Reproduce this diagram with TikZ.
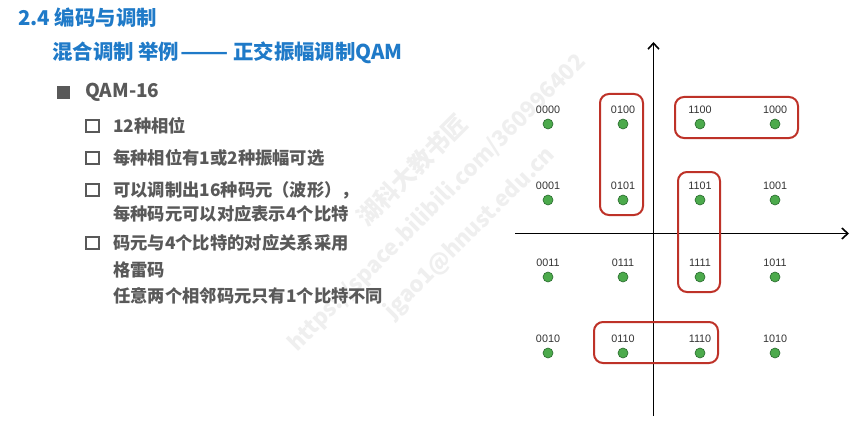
\documentclass[tikz,border=0pt]{standalone}
\usepackage{fontspec}
\usepackage{graphicx}
\setmainfont{Liberation Sans}
\newfontfamily\cjk{Noto Sans CJK SC}
\usetikzlibrary{arrows.meta,calc}
\definecolor{titleblue}{RGB}{31,122,200}
\definecolor{bodygray}{RGB}{89,89,89}
\definecolor{dotgreen}{RGB}{76,170,76}
\definecolor{dotedge}{RGB}{40,105,45}
\definecolor{groupred}{RGB}{190,50,40}
\definecolor{markgray}{RGB}{239,239,239}

\begin{document}
\begin{tikzpicture}[x=1pt,y=-1pt,
  title/.style={anchor=base west, inner sep=0, text=titleblue, font=\cjk\bfseries\fontsize{20.4}{24}\selectfont},
  heading/.style={anchor=west, inner sep=0, text=bodygray, font=\cjk\bfseries\fontsize{19}{23}\selectfont},
  item/.style={anchor=west, inner sep=0, text=bodygray, align=left},
  itemfont/.style={font=\cjk\bfseries\fontsize{17.3}{#1}\selectfont},
  checkbox/.style={draw=bodygray, line width=1.6pt, minimum size=12.5pt, inner sep=0},
  bulletsq/.style={fill=bodygray, minimum size=13pt, inner sep=0},
  symbolpt/.style={circle, fill=dotgreen, draw=dotedge, line width=0.6pt, minimum size=10pt, inner sep=0},
  bits/.style={font=\fontsize{10.8}{12}\selectfont, text=black!80, inner sep=0},
  grp/.style={draw=groupred, line width=2pt, rounded corners=9pt},
  axis/.style={line width=1.6pt, -{Straight Barb[length=6pt,width=11pt,line width=1.6pt]}},
  stamp/.style={text=markgray, inner sep=0, rotate=45, font=\cjk\bfseries\fontsize{24}{28}\selectfont}
]
\useasboundingbox (0,0) rectangle (866,441);
\fill[white] (0,0) rectangle (866,441);

% faint background stamp
\node[stamp] (wm1) at (412,170) {湖科大教书匠};
\node[stamp, font=\cjk\bfseries\fontsize{22}{26}\selectfont] (wm2) at (437,203) {https://space.bilibili.com/360996402};
\node[stamp, font=\cjk\bfseries\fontsize{22}{26}\selectfont] (wm3) at (470,233) {jgao1@hnust.edu.cn};

% headings
\node[title] (t1) at (18,26) {2.4 编码与调制};
\node[title] (t2a) at (52,60) {混合调制 举例};
\node[title] (t2b) at (180,60) {\scalebox{1.38}[1]{——}};
\node[title] (t2c) at (233,60) {正交振幅调制QAM};

% bullet list
\node[bulletsq] (b0) at (63.5,92.5) {};
\node[heading] (h0) at (85,92.5) {QAM-16};

\node[checkbox] (c1) at (92.5,126) {};
\node[item, itemfont=20] (i1) at (113,126) {12种相位};
\node[checkbox] (c2) at (92.5,158) {};
\node[item, itemfont=20] (i2) at (113,158) {每种相位有1或2种振幅可选};
\node[checkbox] (c3) at (92.5,190) {};
\node[item, itemfont=24] (i3) at (113,202) {可以调制出16种码元（波形），\\每种码元可以对应表示4个比特};
\node[checkbox] (c4) at (92.5,243) {};
\node[item, itemfont=26.5] (i4) at (113,269.5) {码元与4个比特的对应关系采用\\格雷码\\任意两个相邻码元只有1个比特不同};

% constellation axes
\coordinate (xs) at (515,233.5);
\coordinate (xe) at (849,233.5);
\coordinate (ys) at (653.5,416);
\coordinate (ye) at (653.5,42);
\draw[axis] (xs) -- (xe);
\draw[axis] (ys) -- (ye);

% constellation points with their bit labels
\foreach \code/\x/\y in {
  0000/548/124, 0100/623/124, 1100/700/124, 1000/775/124,
  0001/548/200, 0101/623/200, 1101/700/200, 1001/775/200,
  0011/548/277, 0111/623/277, 1111/700/277, 1011/775/277,
  0010/548/353, 0110/623/353, 1110/700/353, 1010/775/353}{
  \node[symbolpt] (p\code) at (\x,\y) {};
  \node[bits] (l\code) at (\x,\y-14) {\code};
}

% neighbouring symbol groups
\draw[grp] ($(p0100)+(-23,-30)$) rectangle ($(p0101)+(20,15)$);
\draw[grp] ($(p1100)+(-25,-27)$) rectangle ($(p1000)+(23,14)$);
\draw[grp] ($(p1101)+(-22,-28)$) rectangle ($(p1111)+(20,15)$);
\draw[grp] ($(p0110)+(-29,-31)$) rectangle ($(p1110)+(18,10)$);
\end{tikzpicture}
\end{document}
